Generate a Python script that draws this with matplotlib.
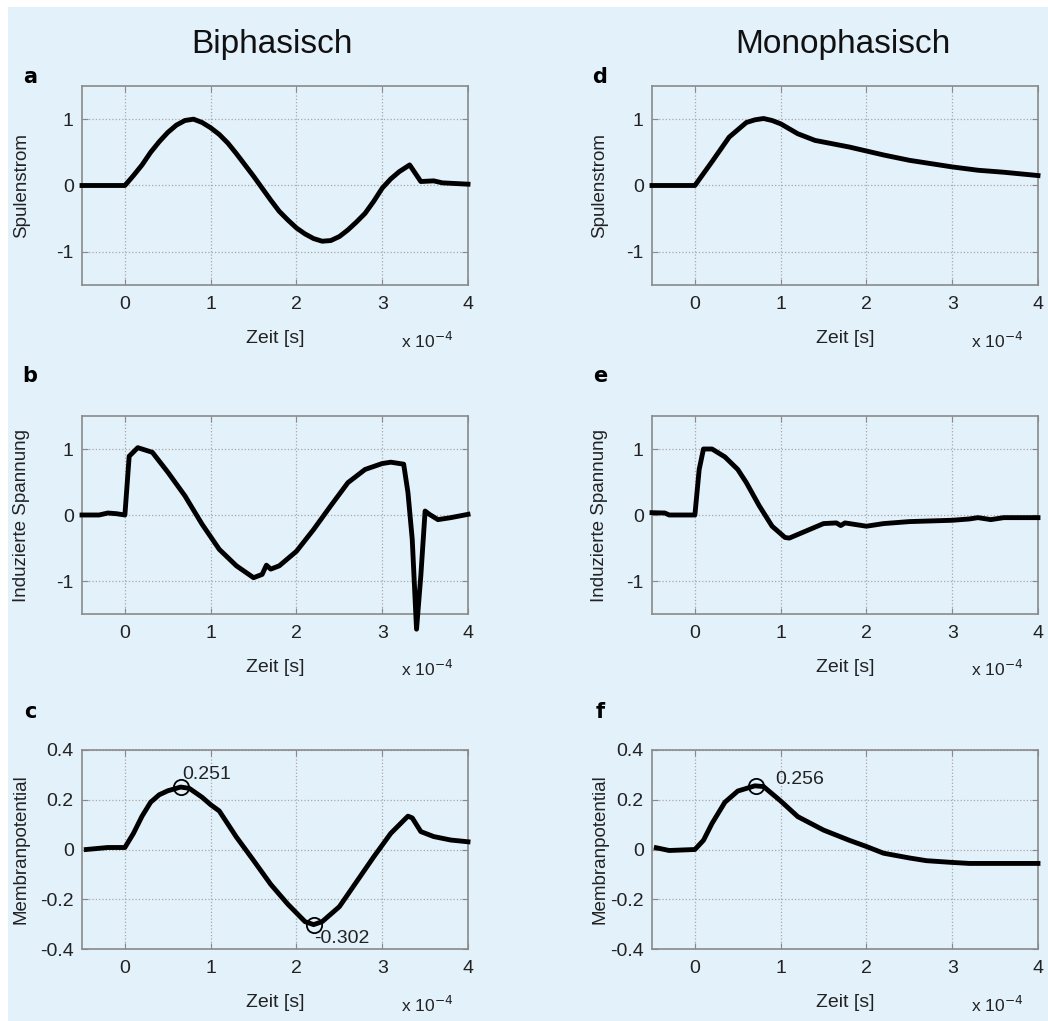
import matplotlib
matplotlib.use("Agg")
import matplotlib.pyplot as plt
from matplotlib.patches import Rectangle

plt.rcParams['font.family'] = ['Liberation Sans', 'DejaVu Sans']
plt.rcParams['axes.unicode_minus'] = False

# time axis in units of 1e-4 s
t_a = [-0.5, 0.0, 0.1, 0.2, 0.3, 0.4, 0.5, 0.6, 0.7, 0.8, 0.9, 1.0, 1.1, 1.2, 1.3, 1.4, 1.5,
       1.6, 1.7, 1.8, 1.9, 2.0, 2.1, 2.2, 2.3, 2.4, 2.5, 2.6, 2.7, 2.8, 2.9, 3.0, 3.1, 3.2,
       3.32, 3.45, 3.6, 3.7, 4.0]
spule_bi = [0.0, 0.0, 0.15, 0.31, 0.5, 0.66, 0.8, 0.91, 0.98, 1.0, 0.95, 0.87, 0.77, 0.64,
            0.48, 0.31, 0.14, -0.04, -0.22, -0.39, -0.52, -0.64, -0.73, -0.80, -0.84, -0.83,
            -0.77, -0.67, -0.55, -0.42, -0.24, -0.04, 0.10, 0.21, 0.31, 0.06, 0.07, 0.04, 0.02]

t_b = [-0.5, -0.3, -0.2, -0.1, 0.0, 0.05, 0.15, 0.32, 0.5, 0.7, 0.9, 1.1, 1.3, 1.5, 1.6,
       1.65, 1.7, 1.8, 2.0, 2.2, 2.4, 2.6, 2.8, 3.0, 3.1, 3.25, 3.3, 3.35, 3.4, 3.45, 3.5,
       3.55, 3.65, 3.8, 4.0]
spann_bi = [0.0, 0.0, 0.03, 0.02, 0.0, 0.89, 1.02, 0.95, 0.65, 0.29, -0.14, -0.52, -0.77,
            -0.95, -0.90, -0.76, -0.82, -0.77, -0.55, -0.22, 0.14, 0.49, 0.69, 0.78, 0.80,
            0.77, 0.34, -0.37, -1.73, -0.92, 0.06, 0.01, -0.07, -0.04, 0.01]

t_c = [-0.45, -0.2, 0.0, 0.1, 0.2, 0.3, 0.4, 0.5, 0.65, 0.75, 0.9, 1.0, 1.1, 1.3, 1.5, 1.7,
       1.9, 2.1, 2.2, 2.3, 2.5, 2.7, 2.9, 3.1, 3.3, 3.35, 3.45, 3.6, 3.8, 4.0]
membran_bi = [0.0, 0.008, 0.008, 0.065, 0.134, 0.19, 0.22, 0.236, 0.251, 0.246, 0.21, 0.18,
              0.155, 0.05, -0.044, -0.14, -0.22, -0.29, -0.302, -0.29, -0.23, -0.13, -0.03,
              0.065, 0.134, 0.127, 0.072, 0.052, 0.038, 0.031]

t_d = [-0.5, 0.0, 0.2, 0.4, 0.6, 0.7, 0.8, 0.9, 1.0, 1.2, 1.4, 1.6, 1.8, 2.0, 2.2, 2.5, 2.8,
       3.0, 3.3, 3.6, 4.0]
spule_mono = [0.0, 0.0, 0.36, 0.73, 0.95, 0.99, 1.01, 0.98, 0.93, 0.78, 0.68, 0.63, 0.58,
              0.52, 0.46, 0.38, 0.32, 0.28, 0.23, 0.20, 0.15]

t_e = [-0.5, -0.35, -0.3, 0.0, 0.05, 0.1, 0.2, 0.35, 0.5, 0.6, 0.75, 0.9, 1.05, 1.1, 1.3,
       1.5, 1.65, 1.7, 1.75, 2.0, 2.2, 2.5, 3.0, 3.2, 3.3, 3.45, 3.6, 4.0]
spann_mono = [0.035, 0.03, 0.0, 0.0, 0.69, 1.0, 1.0, 0.88, 0.69, 0.49, 0.14, -0.17, -0.34,
              -0.35, -0.24, -0.13, -0.12, -0.16, -0.12, -0.17, -0.13, -0.10, -0.08, -0.06,
              -0.04, -0.07, -0.04, -0.04]

t_f = [-0.45, -0.3, 0.0, 0.1, 0.2, 0.35, 0.5, 0.7, 0.8, 1.0, 1.2, 1.5, 1.8, 2.0, 2.2, 2.5,
       2.7, 3.0, 3.2, 4.0]
membran_mono = [0.007, -0.004, 0.0, 0.037, 0.105, 0.19, 0.235, 0.256, 0.253, 0.195, 0.132,
                0.078, 0.037, 0.012, -0.015, -0.034, -0.045, -0.052, -0.056, -0.056]

peaks_bi = [(0.65, 0.251), (2.2, -0.302)]
peaks_mono = [(0.71, 0.256)]

W, H = 1048, 1021
fig = plt.figure(figsize=(W / 100, H / 100), dpi=100, facecolor='white')
bg = '#e3f1fb'
fig.patches.append(Rectangle((8 / W, 0), 1 - 8 / W, 1 - 7 / H, transform=fig.transFigure,
                             facecolor=bg, edgecolor='none', zorder=-10))

cols = [82, 652]
rows = [(86, 285), (416, 614), (750, 949)]
letter_y = [77, 376, 712]

panels = [
    (0, 0, 'a', t_a, spule_bi, 'Spulenstrom', (-1.5, 1.5), [-1, 0, 1]),
    (0, 1, 'b', t_b, spann_bi, 'Induzierte Spannung', (-1.5, 1.5), [-1, 0, 1]),
    (0, 2, 'c', t_c, membran_bi, 'Membranpotential', (-0.4, 0.4), [-0.4, -0.2, 0, 0.2, 0.4]),
    (1, 0, 'd', t_d, spule_mono, 'Spulenstrom', (-1.5, 1.5), [-1, 0, 1]),
    (1, 1, 'e', t_e, spann_mono, 'Induzierte Spannung', (-1.5, 1.5), [-1, 0, 1]),
    (1, 2, 'f', t_f, membran_mono, 'Membranpotential', (-0.4, 0.4), [-0.4, -0.2, 0, 0.2, 0.4]),
]

axes = {}
for c, r, letter, x, y, ylab, ylim, yt in panels:
    x0 = cols[c]
    top, bot = rows[r]
    ax = fig.add_axes([x0 / W, 1 - bot / H, 386 / W, (bot - top) / H])
    ax.set_facecolor(bg)
    ax.plot(x, y, color='black', lw=3.5, solid_joinstyle='round', clip_on=False, zorder=3)
    ax.set_xlim(-0.5, 4)
    ax.set_ylim(*ylim)
    ax.set_xticks([0, 1, 2, 3, 4])
    ax.set_yticks(yt)
    if ylim[1] < 1:
        ax.set_yticklabels(['-0.4', '-0.2', '0', '0.2', '0.4'])
    ax.grid(True, linestyle=':', color='#a8a8a8', lw=0.9)
    for s in ax.spines.values():
        s.set_color('#8a8a8a')
        s.set_linewidth(1.2)
    ax.tick_params(axis='x', pad=8)
    ax.tick_params(axis='y', pad=6)
    ax.tick_params(direction='in', top=True, right=True, length=4, color='#8a8a8a',
                   labelsize=14, labelcolor='#222222')
    ax.set_xlabel('Zeit [s]', fontsize=14, color='#222222', labelpad=12)
    ax.set_ylabel(ylab, fontsize=13.5, color='#222222')
    ax.yaxis.set_label_coords((x0 - 52 if c == 0 else x0 - 44) / W, 1 - (top + bot) / 2 / H,
                              transform=fig.transFigure)
    ax.text(0.894, -0.28, r'x 10$^{-4}$', transform=ax.transAxes, ha='center', va='center',
            fontsize=12.5, color='#222222')
    fig.text((x0 - 52) / W, 1 - letter_y[r] / H, letter, fontsize=15, fontweight='bold',
             family=['Liberation Sans Narrow', 'DejaVu Sans'], ha='center', va='center')
    axes[letter] = ax

for px, py in peaks_bi:
    axes['c'].plot([px], [py], 'o', mfc='none', mec='black', ms=11, mew=1.3, zorder=4)
for px, py in peaks_mono:
    axes['f'].plot([px], [py], 'o', mfc='none', mec='black', ms=11, mew=1.3, zorder=4)

axes['c'].text(0.67, 0.30, '0.251', fontsize=14, ha='left', va='center', color='#222222')
axes['c'].text(2.21, -0.358, '-0.302', fontsize=14, ha='left', va='center', color='#222222')
axes['f'].text(0.94, 0.283, '0.256', fontsize=14, ha='left', va='center', color='#222222')

fig.text(272 / W, 1 - 45 / H, 'Biphasisch', fontsize=24, ha='center', va='center', color='#111111')
fig.text(843 / W, 1 - 45 / H, 'Monophasisch', fontsize=24, ha='center', va='center', color='#111111')

fig.savefig('out.png', dpi=100, facecolor=fig.get_facecolor())
